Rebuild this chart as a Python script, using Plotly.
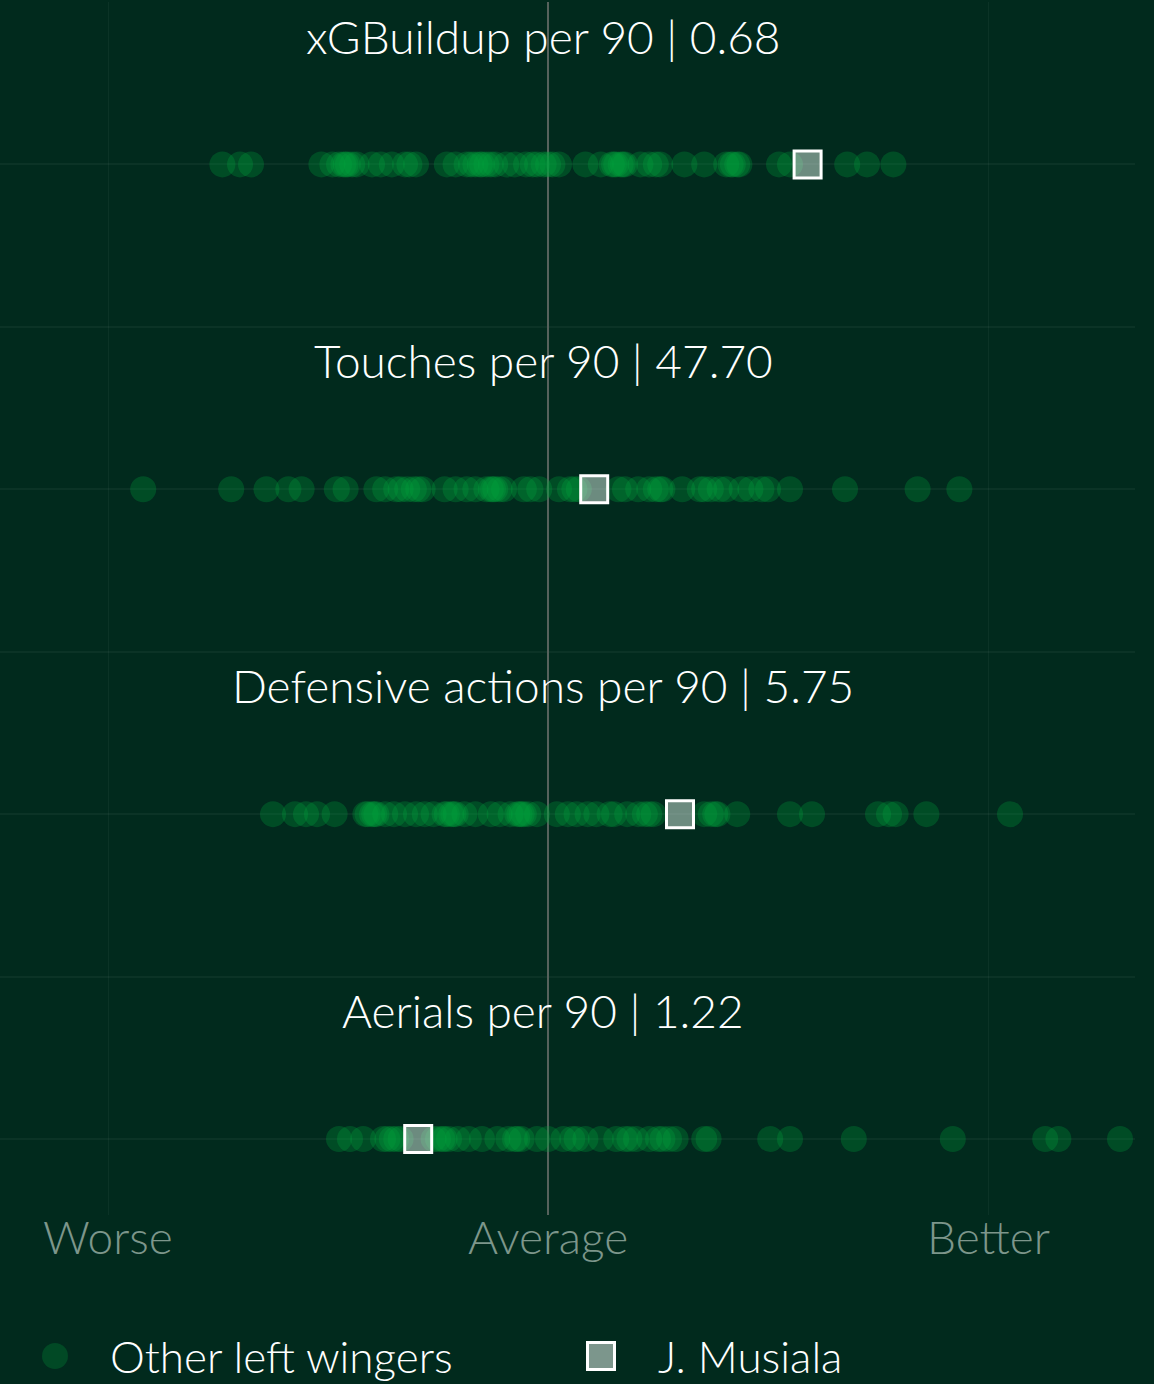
import plotly.graph_objects as go

# ---------------- data ----------------
metrics = ["xGBuildup per 90", "Touches per 90", "Defensive actions per 90", "Aerials per 90"]
musiala_raw = ["0.68", "47.70", "5.75", "1.22"]
# standardised positions (Worse = -2, Average = 0, Better = 2)
musiala_z = [1.18, 0.21, 0.60, -0.59]

others_xgbuildup = [-1.48, -1.40, -1.35, -1.03, -0.98, -0.95, -0.93, -0.92, -0.91, -0.89,
                    -0.87, -0.80, -0.76, -0.71, -0.65, -0.63, -0.60, -0.46, -0.42, -0.37,
                    -0.35, -0.33, -0.31, -0.30, -0.28, -0.26, -0.24, -0.19, -0.15, -0.10,
                    -0.07, -0.05, -0.02, 0.00, 0.02, 0.05, 0.17, 0.24, 0.29, 0.30,
                    0.31, 0.33, 0.34, 0.35, 0.42, 0.46, 0.49, 0.51, 0.62, 0.71,
                    0.81, 0.83, 0.84, 0.86, 0.87, 1.05, 1.10, 1.36, 1.45, 1.57]
others_touches = [-1.84, -1.44, -1.28, -1.18, -1.12, -0.96, -0.92, -0.78, -0.74, -0.69,
                  -0.67, -0.64, -0.61, -0.59, -0.57, -0.47, -0.42, -0.37, -0.33, -0.28,
                  -0.26, -0.25, -0.24, -0.22, -0.20, -0.11, -0.08, -0.04, 0.05, 0.10,
                  0.12, 0.14, 0.32, 0.35, 0.41, 0.46, 0.49, 0.51, 0.52, 0.61,
                  0.69, 0.71, 0.74, 0.78, 0.81, 0.88, 0.92, 0.97, 1.00, 1.10,
                  1.35, 1.68, 1.87]
others_defensive = [-1.25, -1.15, -1.10, -1.05, -0.97, -0.83, -0.82, -0.80, -0.79, -0.78,
                    -0.74, -0.70, -0.65, -0.60, -0.56, -0.52, -0.47, -0.46, -0.44, -0.43,
                    -0.42, -0.38, -0.33, -0.26, -0.22, -0.17, -0.14, -0.13, -0.12, -0.11,
                    -0.09, -0.05, 0.04, 0.09, 0.13, 0.18, 0.22, 0.28, 0.30, 0.36,
                    0.41, 0.44, 0.46, 0.48, 0.71, 0.74, 0.76, 0.77, 0.86, 1.10,
                    1.20, 1.50, 1.55, 1.58, 1.72, 2.10]
others_aerials = [-0.95, -0.90, -0.84, -0.75, -0.73, -0.71, -0.69, -0.67, -0.52, -0.50,
                  -0.48, -0.47, -0.45, -0.41, -0.36, -0.30, -0.23, -0.18, -0.15, -0.14,
                  -0.12, -0.05, 0.00, 0.07, 0.11, 0.13, 0.17, 0.24, 0.31, 0.35,
                  0.37, 0.40, 0.46, 0.50, 0.52, 0.55, 0.58, 0.71, 0.73, 1.01,
                  1.10, 1.39, 1.84, 2.26, 2.32, 2.60]
others_all = [others_xgbuildup, others_touches, others_defensive, others_aerials]

tick_vals = [-2, 0, 2]
tick_text = ["Worse", "Average", "Better"]
legend_labels = ["Other left wingers", "J. Musiala"]

# ---------------- style ----------------
BG = "#012a1d"
DOT = "rgb(0,165,60)"
GRID = "rgba(255,255,255,0.045)"
FONT = "Lato"
PLOT_W, PLOT_H = 1135, 1213

fig = go.Figure()
for i, vals in enumerate(others_all):
    fig.add_trace(go.Scatter(
        x=vals, y=[i] * len(vals), mode="markers",
        marker=dict(size=26, color=DOT, opacity=0.28, line=dict(width=0)),
        name=legend_labels[0], showlegend=False, hoverinfo="x"))
fig.add_trace(go.Scatter(
    x=musiala_z, y=list(range(len(musiala_z))), mode="markers",
    marker=dict(symbol="square", size=27, color="rgba(215,235,225,0.5)",
                line=dict(color="white", width=3)),
    name=legend_labels[1], showlegend=False, hoverinfo="x"))

for i, (m, v) in enumerate(zip(metrics, musiala_raw)):
    fig.add_annotation(text=f"{m} | {v}", xref="paper", x=543 / PLOT_W, yref="y",
                       y=i - 0.395, showarrow=False, xanchor="center", yanchor="middle",
                       font=dict(family=FONT, size=46, color="white", weight=300))

# axis labels (Worse / Average / Better) at the x tick positions
for tv, tt in zip(tick_vals, tick_text):
    fig.add_annotation(text=tt, xref="x", x=tv, yref="paper", y=-21 / PLOT_H,
                       showarrow=False, xanchor="center", yanchor="middle",
                       font=dict(family=FONT, size=46, color="#7d968b", weight=300))

# legend
ly = -141 / PLOT_H
fig.add_shape(type="circle", xref="paper", yref="paper", xsizemode="pixel", ysizemode="pixel",
              xanchor=55 / PLOT_W, yanchor=ly, x0=-13, x1=13, y0=-13, y1=13,
              fillcolor="rgb(1,73,37)", line=dict(width=0))
fig.add_shape(type="rect", xref="paper", yref="paper", xsizemode="pixel", ysizemode="pixel",
              xanchor=601 / PLOT_W, yanchor=ly, x0=-13.5, x1=13.5, y0=-13.5, y1=13.5,
              fillcolor="rgb(124,150,140)", line=dict(color="white", width=3))
fig.add_annotation(text=legend_labels[0], xref="paper", yref="paper", x=108 / PLOT_W, y=ly,
                   xanchor="left", yanchor="middle", showarrow=False,
                   font=dict(family=FONT, size=44, color="white", weight=300))
fig.add_annotation(text=legend_labels[1], xref="paper", yref="paper", x=656 / PLOT_W, y=ly,
                   xanchor="left", yanchor="middle", showarrow=False,
                   font=dict(family=FONT, size=44, color="white", weight=300))

fig.update_layout(
    width=1154, height=1384,
    margin=dict(l=0, r=19, t=2, b=169),
    paper_bgcolor=BG, plot_bgcolor=BG,
    showlegend=False,
    xaxis=dict(range=[-548 / 220, 587 / 220], tickvals=tick_vals, ticktext=tick_text,
               showticklabels=False,
               showgrid=True, gridcolor=GRID, gridwidth=1,
               zeroline=True, zerolinecolor="#56625c", zerolinewidth=2,
               ticks="", showline=False, fixedrange=True),
    yaxis=dict(range=[3.234, -0.5], tickvals=[0, 0.5, 1, 1.5, 2, 2.5, 3],
               showticklabels=False, showgrid=True, gridcolor=GRID, gridwidth=2,
               zeroline=False, ticks="", fixedrange=True),
)

fig.write_html("out.html",
               config={"displayModeBar": False},
               post_script="document.body.style.margin='0';"
                           "document.body.style.background='#012a1d';"
                           "document.body.style.overflow='hidden';")
